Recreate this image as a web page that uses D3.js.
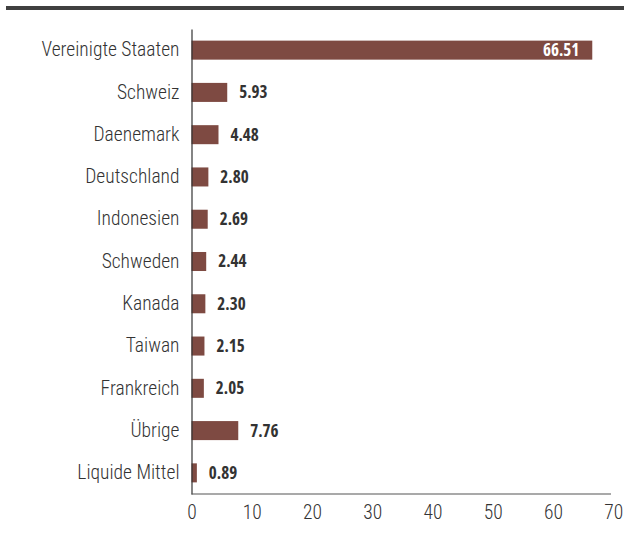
<!DOCTYPE html>
<html>
<head>
<meta charset="utf-8">
<script src="https://cdn.jsdelivr.net/npm/d3@7"></script>
<style>
  body { margin: 0; background: #fff; }
  svg text { font-family: Roboto, sans-serif; font-stretch: condensed; }
</style>
</head>
<body>
<div id="chart"></div>
<script>
// Data
const categories = ["Vereinigte Staaten", "Schweiz", "Daenemark", "Deutschland", "Indonesien",
  "Schweden", "Kanada", "Taiwan", "Frankreich", "Übrige", "Liquide Mittel"];
const values = [66.51, 5.93, 4.48, 2.80, 2.69, 2.44, 2.30, 2.15, 2.05, 7.76, 0.89];
const xTicks = [0, 10, 20, 30, 40, 50, 60, 70];

const width = 624, height = 534;
const margin = { top: 29, right: 11, bottom: 40, left: 191.5 };

const svg = d3.select("#chart").append("svg")
  .attr("width", width)
  .attr("height", height);

// Top rule
svg.append("rect")
  .attr("x", 6).attr("y", 6)
  .attr("width", width - 6).attr("height", 4)
  .attr("fill", "#404040");

const x = d3.scaleLinear().domain([0, 70]).range([margin.left, 613.3]);
const y = d3.scaleBand().domain(categories)
  .range([margin.top, height - margin.bottom])
  .paddingInner(0.55).paddingOuter(0.275);

const data = categories.map((c, i) => ({ name: c, value: values[i] }));

// Bars
svg.append("g")
  .selectAll("rect")
  .data(data)
  .enter().append("rect")
  .attr("x", x(0))
  .attr("y", d => y(d.name))
  .attr("width", d => x(d.value) - x(0))
  .attr("height", y.bandwidth())
  .attr("fill", "#7e4a42");

// Value labels
svg.append("g")
  .selectAll("text")
  .data(data)
  .enter().append("text")
  .attr("x", d => d.value > 30 ? x(d.value) - 13 : x(d.value) + 12)
  .attr("y", d => y(d.name) + y.bandwidth() / 2)
  .attr("dy", "0.35em")
  .attr("text-anchor", d => d.value > 30 ? "end" : "start")
  .attr("font-size", 17)
  .attr("font-weight", "bold")
  .style("font-family", "'Open Sans', sans-serif")
  .attr("fill", d => d.value > 30 ? "#fff" : "#333")
  .text(d => d.value.toFixed(2));

// Y axis (category labels)
const yAxis = svg.append("g")
  .attr("transform", `translate(${margin.left},0)`)
  .call(d3.axisLeft(y).tickSize(0).tickPadding(12));
yAxis.select(".domain").attr("stroke", "#333").attr("stroke-width", 1.2);
yAxis.selectAll("text")
  .attr("font-size", 19.5)
  .attr("font-weight", 300)
  .attr("fill", "#333");

// X axis
const xAxis = svg.append("g")
  .attr("transform", `translate(0,${height - margin.bottom})`)
  .call(d3.axisBottom(x).tickValues(xTicks).tickSize(0).tickPadding(11));
xAxis.select(".domain").attr("stroke", "#555").attr("stroke-width", 1.2)
  .attr("d", `M${margin.left},0H611`);
xAxis.selectAll("text")
  .attr("font-size", 19.5)
  .attr("font-weight", 300)
  .attr("fill", "#333");
</script>
</body>
</html>
